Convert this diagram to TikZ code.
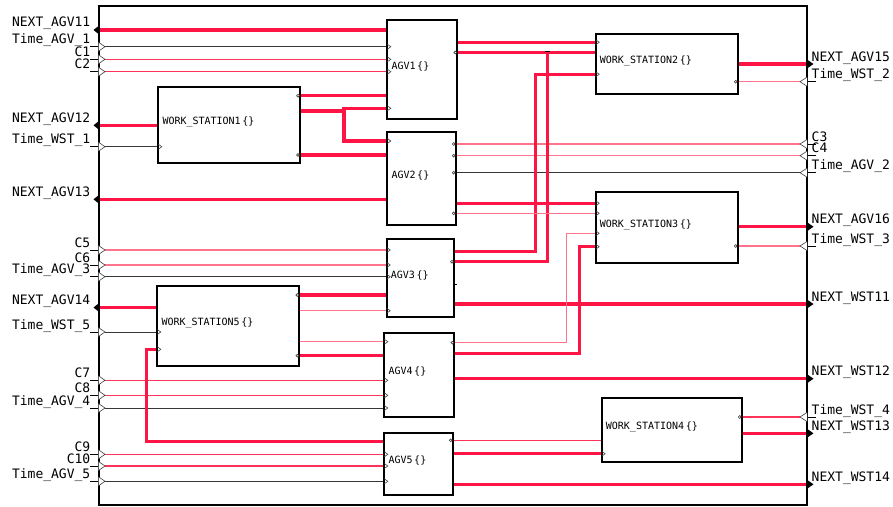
\documentclass[tikz,border=0pt]{standalone}
\usepackage{fontspec}
\newfontfamily\monof{DejaVu Sans Mono}
\pgfdeclarelayer{bg}
\pgfsetlayers{bg,main}
\definecolor{wr}{RGB}{255,20,70}
\definecolor{wt}{RGB}{255,50,90}
\definecolor{wp}{RGB}{255,115,140}
\definecolor{wg}{RGB}{55,55,55}
\tikzset{
  thk/.style={wr, line width=3.3pt},
  thr/.style={wt, line width=1.1pt},
  thp/.style={wp, line width=1.1pt},
  thb/.style={wg, line width=1pt},
  blk/.style={draw=black, line width=1.8pt, outer sep=0pt, inner sep=0pt, anchor=north west},
  plab/.style={font=\monof\fontsize{13}{15}\selectfont, inner sep=0pt},
  blab/.style={font=\monof\fontsize{10}{12}\selectfont, inner sep=0pt, anchor=west},
  mk/.style={draw=black!75, line width=0.6pt},
  pin/.pic={\draw[mk] (0,-2.5) -- (3.5,0) -- (0,2.5);},
  pout/.pic={\draw[mk,fill=white] (-2,0) circle[radius=1.4pt];},
}
% left frame input port: label, y, name
\newcommand\lportin[3]{%
  \coordinate (#3) at (105,#2);
  \draw[black, line width=0.8pt] (90,#2) -- (98.5,#2);
  \draw[mk, fill=white] (98.5,#2-4.5) -- (105,#2) -- (98.5,#2+4.5);
  \node[plab, anchor=base east] (#3l) at (90.5,#2-3) {#1};}
% left frame output port
\newcommand\lportout[3]{%
  \coordinate (#3) at (98.5,#2);
  \fill[black] (98.5,#2-4) -- (93.5,#2) -- (98.5,#2+4) -- cycle;
  \node[plab, anchor=base east] (#3l) at (90.5,#2-3) {#1};}
% right frame input port
\newcommand\rportin[3]{%
  \coordinate (#3) at (800,#2);
  \draw[black, line width=0.8pt] (807,#2) -- (816,#2);
  \draw[mk, fill=white] (807,#2-4.5) -- (800,#2) -- (807,#2+4.5);
  \node[plab, anchor=base west] (#3l) at (811.5,#2-3) {#1};}
% right frame output port
\newcommand\rportout[3]{%
  \coordinate (#3) at (807,#2);
  \fill[black] (807,#2-4.5) -- (813.5,#2) -- (807,#2+4.5) -- cycle;
  \node[plab, anchor=base west] (#3l) at (811.5,#2-3) {#1};}
\begin{document}
\begin{tikzpicture}[x=1pt,y=-1pt]
\useasboundingbox (0,0) rectangle (893,506);
\begin{pgfonlayer}{bg}
\fill[white] (0,0) rectangle (893,506);
\end{pgfonlayer}
% frame
\node[blk, line width=2pt, minimum width=708.5pt, minimum height=498.5pt] (frame) at (98.5,6) {};
% blocks
\node[blk, minimum width=70pt, minimum height=99.3pt] (agv1) at (387.3,20) {};
\node[blk, minimum width=68.4pt, minimum height=93.3pt] (agv2) at (387.3,131.7) {};
\node[blk, minimum width=67.3pt, minimum height=78pt] (agv3) at (386.7,239.3) {};
\node[blk, minimum width=70pt, minimum height=83.4pt] (agv4) at (384.3,333.3) {};
\node[blk, minimum width=68.4pt, minimum height=62.3pt] (agv5) at (384.3,432.7) {};
\node[blk, minimum width=141.7pt, minimum height=76pt] (ws1) at (158.3,86.7) {};
\node[blk, minimum width=142pt, minimum height=80pt] (ws5) at (157.3,286) {};
\node[blk, minimum width=142pt, minimum height=60.3pt] (ws2) at (595.7,33.7) {};
\node[blk, minimum width=142pt, minimum height=71.6pt] (ws3) at (595.7,191.7) {};
\node[blk, minimum width=140pt, minimum height=64.3pt] (ws4) at (601.7,397.7) {};
\foreach \b/\t in {agv1/AGV1,agv2/AGV2,agv3/AGV3,agv4/AGV4,agv5/AGV5,
  ws1/WORK\_STATION1,ws2/WORK\_STATION2,ws3/WORK\_STATION3,ws4/WORK\_STATION4,ws5/WORK\_STATION5}
  \node[blab] (\b t) at ([xshift=4pt,yshift=3pt]\b.west) {\t\,\{\}};
% frame ports
\lportout{NEXT\_AGV11}{30}{pa11}
\lportin{Time\_AGV\_1}{46.7}{ta1}
\lportin{C1}{59.3}{c1}
\lportin{C2}{71.7}{c2}
\lportout{NEXT\_AGV12}{125.3}{pa12}
\lportin{Time\_WST\_1}{146.7}{tw1}
\lportout{NEXT\_AGV13}{199.3}{pa13}
\lportin{C5}{250}{c5}
\lportin{C6}{265}{c6}
\lportin{Time\_AGV\_3}{276.7}{ta3}
\lportout{NEXT\_AGV14}{307.5}{pa14}
\lportin{Time\_WST\_5}{332}{tw5}
\lportin{C7}{380.3}{c7}
\lportin{C8}{395.3}{c8}
\lportin{Time\_AGV\_4}{408}{ta4}
\lportin{C9}{454.3}{c9}
\lportin{C10}{466}{c10}
\lportin{Time\_AGV\_5}{481.3}{ta5}
\rportout{NEXT\_AGV15}{64}{pa15}
\rportin{Time\_WST\_2}{81.7}{tw2}
\rportin{C3}{144}{c3}
\rportin{C4}{155.7}{c4}
\rportin{Time\_AGV\_2}{172.7}{ta2}
\rportout{NEXT\_AGV16}{226.7}{pa16}
\rportin{Time\_WST\_3}{246}{tw3}
\rportout{NEXT\_WST11}{304}{pw11}
\rportout{NEXT\_WST12}{378.7}{pw12}
\rportin{Time\_WST\_4}{417}{tw4}
\rportout{NEXT\_WST13}{433.3}{pw13}
\rportout{NEXT\_WST14}{484.3}{pw14}
\begin{pgfonlayer}{bg}
% left frame wires
\draw[thk] (agv1.west |- pa11) -- (pa11);
\draw[thb] (ta1) -- (agv1.west |- ta1);
\draw[thr] (c1) -- (agv1.west |- c1);
\draw[thr] (c2) -- (agv1.west |- c2);
\draw[thk] (ws1.west |- pa12) -- (pa12);
\draw[thb] (tw1) -- (ws1.west |- tw1);
\draw[thk] (agv2.west |- pa13) -- (pa13);
\draw[thp] (c5) -- (agv3.west |- c5);
\draw[thp] (c6) -- (agv3.west |- c6);
\draw[thb] (ta3) -- (agv3.west |- ta3);
\draw[thk] (ws5.west |- pa14) -- (pa14);
\draw[thb] (tw5) -- (ws5.west |- tw5);
\draw[thr] (c7) -- (agv4.west |- c7);
\draw[thr] (c8) -- (agv4.west |- c8);
\draw[thb] (ta4) -- (agv4.west |- ta4);
\draw[thr] (c9) -- (agv5.west |- c9);
\draw[thr] (c10) -- (agv5.west |- c10);
\draw[thb] (ta5) -- (agv5.west |- ta5);
% right frame wires
\draw[thk] (ws2.east |- pa15) -- (pa15);
\draw[thp] (tw2) -- (ws2.east |- tw2);
\draw[thp] (c3) -- (agv2.east |- c3);
\draw[thp] (c4) -- (agv2.east |- c4);
\draw[thb] (ta2) -- (agv2.east |- ta2);
\draw[thk] (ws3.east |- pa16) -- (pa16);
\draw[thp] (tw3) -- (ws3.east |- tw3);
\draw[thk] (agv3.east |- pw11) -- (pw11);
\draw[thk] (agv4.east |- pw12) -- (pw12);
\draw[thr] (tw4) -- (ws4.east |- tw4);
\draw[thk] (ws4.east |- pw13) -- (pw13);
\draw[thk] (agv5.east |- pw14) -- (pw14);
% inner wires
\draw[thk] (ws1.east |- 0,95.7) -- (agv1.west |- 0,95.7);
\draw[thk] (ws1.east |- 0,111) -- (344,111);
\draw[thk] (agv1.west |- 0,108.3) -| (344,141) -- (agv2.west |- 0,141);
\draw[thk] (ws1.east |- 0,155) -- (agv2.west |- 0,155);
\draw[thk] (agv1.east |- 0,42.3) -- (ws2.west |- 0,42.3);
\draw[thk] (agv1.east |- 0,52.5) -- (ws2.west |- 0,52.5);
\draw[thk] (agv3.east |- 0,261.7) -| (547.3,52.5);
\draw[thk] (agv3.east |- 0,251.7) -| (535.7,74.3) -- (ws2.west |- 0,74.3);
\draw[thk] (agv2.east |- 0,203.3) -- (ws3.west |- 0,203.3);
\draw[thp] (agv2.east |- 0,213.3) -- (ws3.west |- 0,213.3);
\draw[thp] (agv4.east |- 0,342.7) -| (566.7,233.3) -- (ws3.west |- 0,233.3);
\draw[thk] (agv4.east |- 0,353.3) -| (579.3,246.7) -- (ws3.west |- 0,246.7);
\draw[thk] (ws5.east |- 0,295) -- (agv3.west |- 0,295);
\draw[thp] (ws5.east |- 0,310.7) -- (agv3.west |- 0,310.7);
\draw[thp] (ws5.east |- 0,341.7) -- (agv4.west |- 0,341.7);
\draw[thk] (ws5.east |- 0,355.7) -- (agv4.west |- 0,355.7);
\draw[thk] (agv5.west |- 0,441.7) -| (146.7,349.3) -- (ws5.west |- 0,349.3);
\draw[thr] (agv5.east |- 0,440.3) -- (ws4.west |- 0,440.3);
\draw[thk] (agv5.east |- 0,453.7) -- (ws4.west |- 0,453.7);
\end{pgfonlayer}
% small marks
\draw[black, line width=1.2pt] (544.8,51.3) -- (549.8,51.3);
\draw[black, line width=1pt] (agv3.east |- 0,284) -- ++(2.5,0);
% block port markers (inputs)
\foreach \b/\y in {agv1/46.7,agv1/59.3,agv1/71.7,agv1/108.3,agv2/141,ws1/146.7,
  agv3/250,agv3/265,agv3/276.7,agv3/310.7,ws5/332,ws5/349.3,agv4/341.7,
  agv4/380.3,agv4/395.3,agv4/408,agv5/454.3,agv5/466,agv5/481.3,
  ws2/42.3,ws2/74.3,ws3/203.3,ws3/213.3,ws3/233.3,ws3/246.7,ws4/453.7}
  \pic at (\b.west |- 0,\y) {pin};
% block port markers (outputs)
\foreach \b/\y in {ws1/95.7,ws1/155,agv1/52.5,agv2/144,agv2/155.7,agv2/172.7,agv2/213.3,
  agv3/261.7,ws5/295,ws5/355.7,agv4/342.7,agv5/440.3,ws2/81.7,ws3/246,ws4/417}
  \pic at (\b.east |- 0,\y) {pout};
\end{tikzpicture}
\end{document}
